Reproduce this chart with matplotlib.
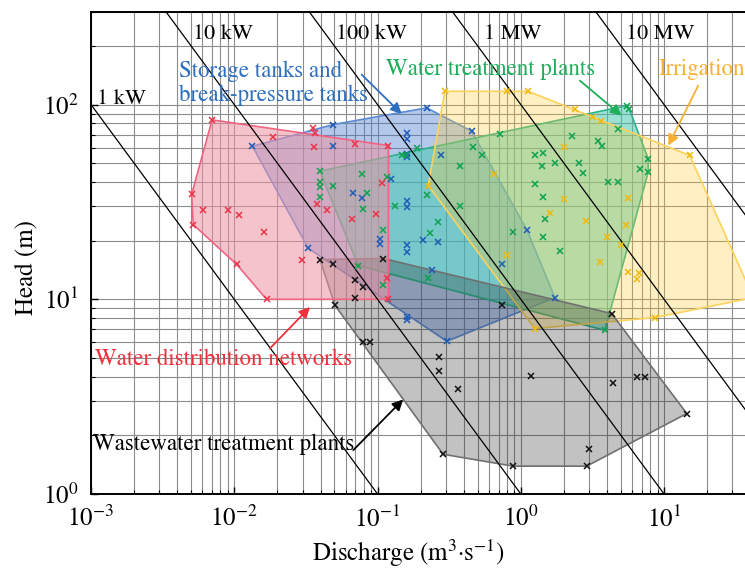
import numpy as np
import matplotlib.pyplot as plt
from matplotlib.patches import Polygon
from matplotlib.colors import to_rgba
from matplotlib.ticker import NullFormatter

plt.rcParams['font.family'] = 'STIXGeneral'
plt.rcParams['mathtext.fontset'] = 'stix'

# discharge Q (m3/s) and head H (m) of each site, one group per use
# *_hull lists the sites on the outline of each group (in order)
wdn_q = [0.0070, 0.0187, 0.0356, 0.0366, 0.0362, 0.0696, 0.119, 0.107, 0.00504, 0.00608,
         0.0090, 0.0108, 0.0161, 0.00517, 0.0104, 0.0295, 0.0168, 0.0376, 0.0441, 0.066,
         0.0975, 0.116, 0.119]
wdn_h = [83.5, 68.0, 75.6, 71.6, 60.4, 62.4, 61.6, 39.5, 34.6, 28.6,
         28.9, 27.0, 22.1, 24.2, 15.1, 16.0, 10.0, 31.0, 28.6, 25.9,
         27.5, 12.8, 10.0]
wdn_hull = [0, 6, 22, 16, 14, 13, 8]

tank_q = [0.0134, 0.0491, 0.0491, 0.220, 0.160, 0.160, 0.160, 0.160, 0.276, 0.454,
          0.125, 0.0677, 0.0774, 0.160, 0.160, 0.104, 0.104, 0.160, 0.160, 0.208,
          0.265, 0.0328, 1.10, 0.742, 0.238, 0.160, 0.160, 0.304, 1.73]
tank_h = [61.1, 79.0, 61.1, 96.2, 71.3, 66.7, 55.9, 54.1, 55.4, 73.0,
          41.6, 35.1, 33.2, 31.9, 29.7, 20.5, 19.3, 18.9, 17.5, 20.2,
          19.7, 18.3, 22.8, 15.2, 14.1, 8.1, 7.8, 6.09, 10.2]
tank_hull = [0, 1, 3, 9, 22, 28, 27, 21]

wtp_q = [0.1875, 0.147, 0.158, 0.0396, 0.0774, 0.116, 0.466, 0.533, 0.376, 0.715,
         1.25, 1.40, 1.25, 0.0396, 0.0396, 0.0491, 0.0839, 0.0396, 0.220, 5.47,
         5.71, 4.78, 2.26, 3.47, 3.66, 1.43, 2.56, 2.73, 1.73, 7.75,
         6.78, 7.75, 4.07, 4.78, 1.43, 0.0795, 0.132, 0.376, 0.265, 0.232,
         0.110, 0.885, 1.43, 1.47, 1.88, 0.0733, 0.226, 0.110, 3.86]
wtp_h = [59.5, 55.4, 54.8, 45.5, 43.8, 42.4, 60.4, 55.4, 48.3, 70.7,
         54.8, 48.1, 38.9, 40.0, 37.7, 38.1, 35.1, 33.5, 34.2, 98.8,
         95.0, 75.1, 69.3, 65.4, 61.6, 56.3, 50.0, 44.4, 50.0, 52.7,
         46.8, 45.0, 40.0, 40.0, 33.7, 29.2, 30.3, 30.0, 24.9, 21.9,
         22.8, 22.1, 21.0, 25.9, 17.8, 14.9, 12.9, 11.9, 6.93]
wtp_hull = [3, 19, 20, 29, 31, 48, 45]

irr_q = [0.295, 0.796, 1.126, 0.652, 0.226, 2.39, 3.17, 3.61, 2.00, 15.1,
         5.62, 2.00, 1.60, 2.85, 5.41, 3.97, 4.97, 3.57, 5.62, 6.70,
         6.43, 8.63, 0.796, 1.25, 42.0]
irr_h = [117, 117, 117, 44.1, 38.4, 94.5, 86.1, 82.8, 60.4, 54.8,
         33.2, 32.8, 27.8, 25.2, 24.0, 20.9, 18.9, 15.5, 13.8, 13.6,
         12.7, 8.06, 16.8, 7.07, 10.2]
irr_hull = [0, 2, 9, 24, 21, 23, 4]

wwtp_q = [0.0396, 0.0491, 0.110, 0.0696, 0.0795, 0.0696, 0.0504, 0.735, 0.0795, 0.0885,
          0.270, 0.270, 0.366, 1.17, 0.287, 0.885, 4.37, 6.43, 7.35, 14.4,
          3.00, 2.88, 4.30]
wwtp_h = [16.0, 15.2, 16.2, 12.5, 11.5, 10.2, 9.32, 9.32, 6.00, 6.00,
          5.06, 4.30, 3.48, 4.03, 1.60, 1.39, 3.70, 4.00, 4.00, 2.59,
          1.70, 1.39, 8.45]
wwtp_hull = [0, 2, 22, 19, 21, 15, 14, 6]

# hydraulic power P = rho*g*Q*H
rho_g = 10.0  # kN/m3
power_kw = [1, 10, 100, 1000, 10000]
power_labels = ['1 kW', '10 kW', '100 kW', '1 MW', '10 MW']
label_q = [0.0011, 0.00515, 0.0515, 0.555, 5.45]
label_h = [101, 218, 218, 218, 218]

fig = plt.figure(figsize=(7.45, 5.72), dpi=100)
ax = fig.add_axes([91 / 745, 78 / 572, 654 / 745, 482.3 / 572])
ax.set_xscale('log')
ax.set_yscale('log')
ax.set_xlim(1e-3, 36.7)
ax.set_ylim(1, 300)

# (q, h, hull, face, face alpha, edge, marker colour), bottom to top
groups = [
    (tank_q, tank_h, tank_hull, (68, 118, 205), 0.40, '#5b8bd6', '#1f5cb5'),
    (wtp_q, wtp_h, wtp_hull, (66, 200, 173), 0.53, '#2db38a', '#0da24e'),
    (irr_q, irr_h, irr_hull, (255, 205, 55), 0.30, '#fbd25a', '#f0b90b'),
    (wwtp_q, wwtp_h, wwtp_hull, (33, 33, 33), 0.27, '#707070', '#111111'),
    (wdn_q, wdn_h, wdn_hull, (238, 147, 163), 0.55, '#f06482', '#eb3246'),
]

for q, h, hull, face, alpha, edge, mc in groups:
    q = np.array(q)
    h = np.array(h)
    fc = to_rgba(np.array(face) / 255, alpha)
    poly = Polygon(np.column_stack([q[hull], h[hull]]), closed=True,
                   facecolor=fc, edgecolor=edge, lw=1.2, zorder=2)
    ax.add_patch(poly)

for q, h, hull, face, alpha, edge, mc in groups:
    ax.plot(q, h, 'x', color=mc, ms=5, mew=1.1, zorder=4)

q_line = np.logspace(-3, 2, 60)
for p in power_kw:
    ax.plot(q_line, p / rho_g / q_line, color='k', lw=0.9, zorder=3)

for lab, lq, lh in zip(power_labels, label_q, label_h):
    ax.text(lq, lh, lab, fontsize=16, ha='left', va='baseline', zorder=5)

# multi-line text: 'baseline' pins the last line
ax.text(0.00413, 104.8, 'Storage tanks and\nbreak-pressure tanks', color='#2e6fbf',
        fontsize=16.5, ha='left', va='baseline', linespacing=1.15, zorder=5)
ax.text(0.1145, 142.5, 'Water treatment plants', color='#1fae5a',
        fontsize=16.5, ha='left', va='baseline', zorder=5)
ax.text(9.09, 142.5, 'Irrigation', color='#f7b12e',
        fontsize=16.5, ha='left', va='baseline', zorder=5)
ax.text(0.00107, 4.59, 'Water distribution networks', color='#f0303c',
        fontsize=16.5, ha='left', va='baseline', zorder=5)
ax.text(0.00104, 1.68, 'Wastewater treatment plants', color='k',
        fontsize=16.5, ha='left', va='baseline', zorder=5)

arrows = [
    ((0.1473, 89.6), (0.0774, 142.6), '#2e6fbf'),
    ((5.05, 87.8), (2.585, 132.7), '#1fae5a'),
    ((10.7, 61.6), (17.3, 125), '#f7b12e'),
    ((0.0338, 9.13), (0.01774, 5.59), '#f0303c'),
    ((0.151, 3.06), (0.0677, 1.68), 'k'),
]
for head, tail, c in arrows:
    ax.annotate('', xy=head, xytext=tail,
                arrowprops=dict(arrowstyle='-|>', color=c, lw=1.3,
                                mutation_scale=16, shrinkA=0, shrinkB=0),
                zorder=5)

ax.grid(True, which='both', color='#8c8c8c', lw=0.8)
ax.set_axisbelow(True)
ax.tick_params(which='both', direction='in', labelsize=18)
ax.tick_params(which='major', length=5, width=1, pad=9)
ax.tick_params(which='minor', length=3, width=0.8)
ax.xaxis.set_minor_formatter(NullFormatter())
ax.yaxis.set_minor_formatter(NullFormatter())
for side in ['left', 'bottom', 'top']:
    ax.spines[side].set_linewidth(1.4)
ax.spines['right'].set_visible(False)

ax.set_xlabel('Discharge (m$^3$·s$^{-1}$)', fontsize=18)
ax.set_ylabel('Head (m)', fontsize=18)
ax.xaxis.set_label_coords(0.485, -0.09)
ax.yaxis.set_label_coords(-0.08, 0.47)

fig.savefig('out.png', dpi=100)
